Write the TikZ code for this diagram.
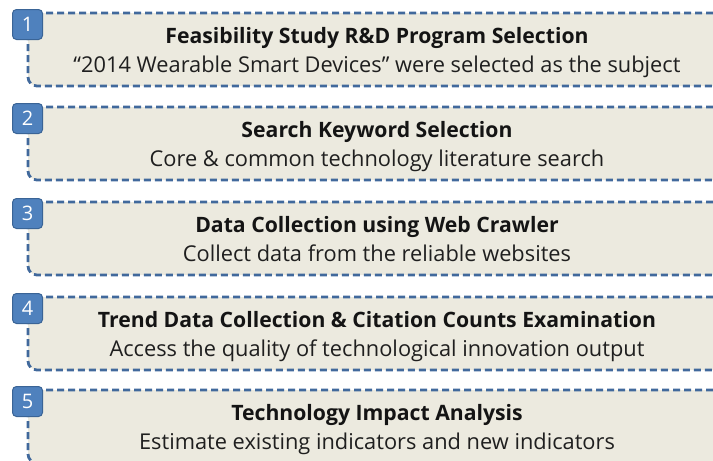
\documentclass[tikz,border=0pt]{standalone}
\usepackage{fontspec}
\setmainfont{Open Sans}
\begin{document}
\definecolor{panelfill}{HTML}{ECEADF}
\definecolor{dashblue}{HTML}{41699C}
\definecolor{badgefill}{HTML}{4F81BD}
\definecolor{badgeedge}{HTML}{3A6496}
\tikzset{
  panel/.style={draw=dashblue, fill=panelfill, line width=2.8pt,
    dash pattern=on 7pt off 4pt, rounded corners=9pt},
  badge/.style={draw=badgeedge, fill=badgefill, line width=1pt,
    rounded corners=4pt, minimum width=30pt, minimum height=30pt,
    inner sep=0pt, text=white, font=\fontsize{20}{20}\selectfont},
  headline/.style={anchor=base, font=\fontsize{21.2}{21.2}\selectfont\bfseries, text=black!92},
  subline/.style={anchor=base, font=\fontsize{21.8}{21.8}\selectfont, text=black!88}
}
\begin{tikzpicture}[x=1pt,y=-1pt]
  \useasboundingbox (0,0) rectangle (713,461);
  \clip (0,0) rectangle (713,461);
  \foreach \i/\top/\head/\sub in {
    1/13/{Feasibility Study R\&D Program Selection}/{“2014 Wearable Smart Devices” were selected as the subject},
    2/107/{Search Keyword Selection}/{Core \& common technology literature search},
    3/202/{Data Collection using Web Crawler}/{Collect data from the reliable websites},
    4/297/{Trend Data Collection \& Citation Counts Examination}/{Access the quality of technological innovation output},
    5/390/{Technology Impact Analysis}/{Estimate existing indicators and new indicators}} {
    \path[panel] (28,\top) rectangle (726,\top+73);
    \node[headline] (head\i) at (377,\top+30) {\head};
    \node[subline] (sub\i) at (377,\top+59) {\sub};
    \node[badge] (badge\i) at (27.5,\top+11.5) {\i};
  }
\end{tikzpicture}
\end{document}
